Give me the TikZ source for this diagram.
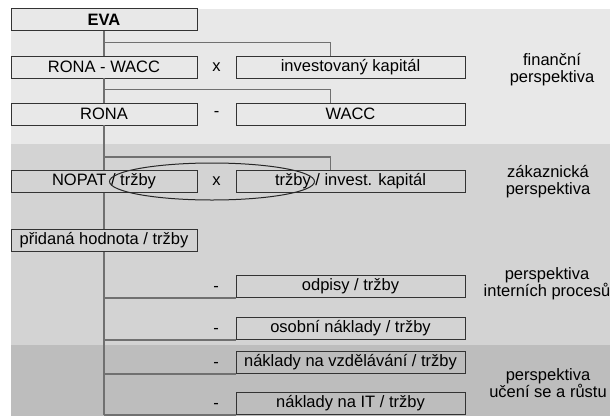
\documentclass[tikz,border=0pt]{standalone}
\usepackage{fontspec}
\setmainfont{Liberation Sans}
\usetikzlibrary{calc}
\definecolor{bandA}{HTML}{E8E8E8}
\definecolor{bandB}{HTML}{D3D3D3}
\definecolor{bandC}{HTML}{BDBDBD}
\definecolor{wire}{HTML}{707070}
\begin{document}
\begin{tikzpicture}[
  x=1pt,y=-1pt,
  font=\fontsize{16.5}{18}\selectfont,
  box/.style={draw=black!80,line width=0.8pt,fill=bandA,minimum width=186pt,minimum height=22pt,inner sep=0pt},
  widebox/.style={box,minimum width=229pt},
  link/.style={draw=wire,line width=1.3pt},
  ring/.style={draw=black!85,line width=1pt},
  op/.style={inner sep=1pt},
  persp/.style={align=center,font=\fontsize{16.5}{17}\selectfont}
]
\useasboundingbox (0,0) rectangle (610,416);
% perspective bands
\fill[bandA] (11,9) rectangle (610,144);
\fill[bandB] (11,144) rectangle (610,345);
\fill[bandC] (11,345) rectangle (610,416);
% left column
\node[box] (eva) at (104,19.5) {\textbf{EVA}};
\node[box] (rw) at (104,67) {RONA - WACC};
\node[box] (rona) at (104,114) {RONA};
\node[box,fill=bandB] (nopat) at (104,181.5) {NOPAT / tržby};
\node[box,fill=bandB] (prid) at (104,240.5) {přidaná hodnota / tržby};
% right column
\node[widebox] (inv) at (350.5,67) {investovaný kapitál};
\node[widebox] (wacc) at (350.5,114) {WACC};
\node[widebox,fill=bandB] (obr) at (350.5,181.5) {tržby / invest. kapitál};
\node[widebox,fill=bandB] (odp) at (350.5,286.5) {odpisy / tržby};
\node[widebox,fill=bandB] (osob) at (350.5,328.5) {osobní náklady / tržby};
\node[widebox,fill=bandC] (vzd) at (350.5,362.5) {náklady na vzdělávání / tržby};
\node[widebox,fill=bandC] (it) at (350.5,403.5) {náklady na IT / tržby};
\coordinate (end) at (it.south west -| eva.south);
% operators
\node[op] (o1) at ($(rw.east)!.5!(inv.west)$) {x};
\node[op] (o2) at ($(rona.east)!.5!(wacc.west)$) {-};
\node[op] (o3) at ($(nopat.east)!.5!(obr.west)$) {x};
\foreach \b/\n in {odp/o4,osob/o5,vzd/o6,it/o7}
  \node[op] (\n) at ($(\b.west)+(-19.5,2)$) {-};
% trunk
\draw[link] (eva.south) -- (rw.north);
\draw[link] (rw.south) -- (rona.north);
\draw[link] (rona.south) -- (nopat.north);
\draw[link] (nopat.south) -- (prid.north);
\draw[link] (prid.south) -- (end);
% branches to the right column
\draw[link] (rw.north) ++(0,-13) -| ([xshift=-20pt]inv.north);
\draw[link] (rona.north) ++(0,-13) -| ([xshift=-20pt]wacc.north);
\draw[link] (nopat.north) ++(0,-13) -| ([xshift=-20pt]obr.north);
\foreach \b in {odp,osob,vzd,it}
  \draw[link] (\b.south west -| eva.south) -- (\b.south west);
% highlighted pair
\draw[ring] ($(o3)+(-4.5,0)$) ellipse [x radius=102.5pt,y radius=18.5pt];
% perspective labels
\node[persp] (p1) at (552,70) {finanční\\perspektiva};
\node[persp] (p2) at (548,182) {zákaznická\\perspektiva};
\node[persp] (p3) at (547,284) {perspektiva\\interních procesů};
\node[persp] (p4) at (548,383) {perspektiva\\učení se a růstu};
\end{tikzpicture}
\end{document}
